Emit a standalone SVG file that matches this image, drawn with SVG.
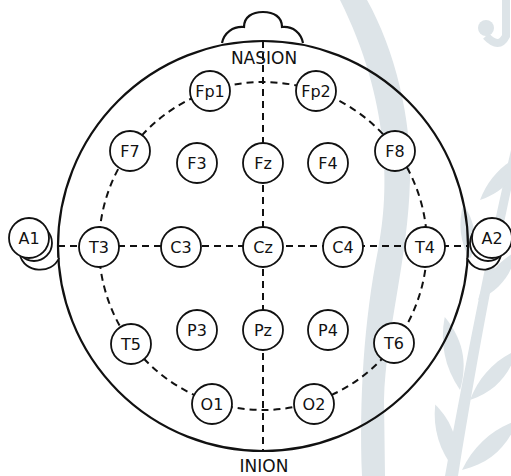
<svg xmlns="http://www.w3.org/2000/svg" width="511" height="476" viewBox="0 0 511 476">
<style>
.wm{fill:#dde4e8;stroke:none}
.head{fill:none;stroke:#111;stroke-width:2.2}
.ear{fill:#fff;stroke:#111;stroke-width:1.8}
.dash{fill:none;stroke:#111;stroke-width:2;stroke-dasharray:7,5}
.el{fill:#fff;stroke:#111;stroke-width:1.8}
.lbl{font-family:"DejaVu Sans",sans-serif;font-size:16px;fill:#111;text-anchor:middle}
.big{font-family:"DejaVu Sans",sans-serif;font-size:17px;fill:#111;text-anchor:middle}
</style>
<defs>
<path id="leaf" d="M0,0 C4,-22 16,-40 34,-52 C32,-30 22,-12 0,0 Z"/>
</defs>
<rect width="511" height="476" fill="#fff"/>
<g id="watermark">
<path class="wm" d="M340,0 L367,0 C395,50 412,120 410,180 C408,260 386,330 384,400 L385,476 L362,476 C359,400 364,320 378,250 C390,190 390,100 340,0 Z"/>
<circle class="wm" cx="486" cy="28" r="8"/>
<path d="M486,36 Q499,50 506,36 L506,0" fill="none" stroke="#dde4e8" stroke-width="8"/>
<path class="wm" d="M511,150 C490,240 470,340 445,476 L458,476 C480,340 498,250 511,190 Z"/>
<use href="#leaf" class="wm" transform="translate(480,200) rotate(10)"/>
<use href="#leaf" class="wm" transform="translate(492,185) rotate(25) scale(0.8)"/>
<use href="#leaf" class="wm" transform="translate(470,260) rotate(-40) scale(0.9)"/>
<use href="#leaf" class="wm" transform="translate(478,300) rotate(5)"/>
<use href="#leaf" class="wm" transform="translate(460,390) rotate(-45) scale(1.2)"/>
<use href="#leaf" class="wm" transform="translate(470,400) rotate(10) scale(1.1)"/>
<use href="#leaf" class="wm" transform="translate(455,470) rotate(-50) scale(1.1)"/>
<use href="#leaf" class="wm" transform="translate(462,470) rotate(15) scale(1.2)"/>
</g>
<g id="head">
<circle class="head" cx="263" cy="246" r="205"/>
<path class="head" d="M222,43 C224,33 233,26 244,27 C244,17 252,12 263,12 C274,12 282,17 282,27 C293,26 301,33 303,43"/>
</g>
<g id="connectors">
<circle class="dash" cx="263" cy="246" r="164"/>
<line class="dash" x1="263" y1="41" x2="263" y2="451"/>
<line class="dash" x1="58" y1="246" x2="468" y2="246"/>
</g>
<g id="labels">
<text class="big" x="264" y="64">NASION</text>
<text class="big" x="264" y="472">INION</text>
</g>
<g id="A1">
<path class="ear" d="M20,255 C24,273 52,275 59,258"/>
<circle class="ear" cx="34" cy="243" r="18"/>
<circle class="el" cx="29" cy="238" r="20"/><text class="lbl" x="29" y="244">A1</text></g>
<g id="A2">
<path class="ear" d="M501,255 C497,273 475,275 467,258"/>
<circle class="ear" cx="488" cy="243" r="18"/>
<circle class="el" cx="492" cy="238" r="20"/><text class="lbl" x="492" y="244">A2</text></g>
<g id="Fp1"><circle class="el" cx="210" cy="91" r="20"/><text class="lbl" x="210" y="97">Fp1</text></g>
<g id="Fp2"><circle class="el" cx="316" cy="91" r="20"/><text class="lbl" x="316" y="97">Fp2</text></g>
<g id="F7"><circle class="el" cx="130" cy="151" r="20"/><text class="lbl" x="130" y="157">F7</text></g>
<g id="F3"><circle class="el" cx="197" cy="163" r="20"/><text class="lbl" x="197" y="169">F3</text></g>
<g id="Fz"><circle class="el" cx="263" cy="163" r="20"/><text class="lbl" x="263" y="169">Fz</text></g>
<g id="F4"><circle class="el" cx="328" cy="163" r="20"/><text class="lbl" x="328" y="169">F4</text></g>
<g id="F8"><circle class="el" cx="395" cy="151" r="20"/><text class="lbl" x="395" y="157">F8</text></g>
<g id="T3"><circle class="el" cx="99" cy="247" r="20"/><text class="lbl" x="99" y="253">T3</text></g>
<g id="C3"><circle class="el" cx="181" cy="247" r="20"/><text class="lbl" x="181" y="253">C3</text></g>
<g id="Cz"><circle class="el" cx="263" cy="247" r="20"/><text class="lbl" x="263" y="253">Cz</text></g>
<g id="C4"><circle class="el" cx="343" cy="247" r="20"/><text class="lbl" x="343" y="253">C4</text></g>
<g id="T4"><circle class="el" cx="425" cy="247" r="20"/><text class="lbl" x="425" y="253">T4</text></g>
<g id="T5"><circle class="el" cx="131" cy="344" r="20"/><text class="lbl" x="131" y="350">T5</text></g>
<g id="P3"><circle class="el" cx="197" cy="330" r="20"/><text class="lbl" x="197" y="336">P3</text></g>
<g id="Pz"><circle class="el" cx="263" cy="330" r="20"/><text class="lbl" x="263" y="336">Pz</text></g>
<g id="P4"><circle class="el" cx="328" cy="330" r="20"/><text class="lbl" x="328" y="336">P4</text></g>
<g id="T6"><circle class="el" cx="394" cy="343" r="20"/><text class="lbl" x="394" y="349">T6</text></g>
<g id="O1"><circle class="el" cx="212" cy="404" r="20"/><text class="lbl" x="212" y="410">O1</text></g>
<g id="O2"><circle class="el" cx="314" cy="404" r="20"/><text class="lbl" x="314" y="410">O2</text></g>
</svg>
